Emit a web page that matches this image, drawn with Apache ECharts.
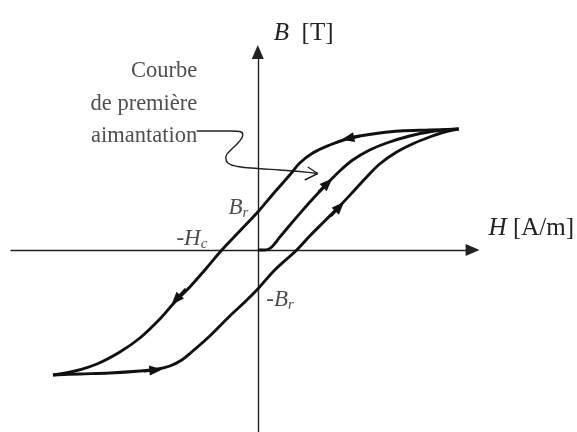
<!DOCTYPE html>
<html><head><meta charset="utf-8">
<script src="https://cdn.jsdelivr.net/npm/echarts@6/dist/echarts.min.js"></script>
<style>html,body{margin:0;padding:0;background:#fff}#c{width:577px;height:432px}</style>
</head><body><div id="c"></div>
<script>
// H in A/m, B in T
const descendingBranch = [
  [502.5,1.5125],[430,1.5],[355,1.4875],[305,1.4625],[255,1.425],[222.5,1.3875],
  [180,1.3125],[137.5,1.2125],[105,1.0875],[80,0.9375],[42.5,0.725],[0,0.475],
  [-45,0.2375],[-90,0],[-132.5,-0.25],[-170,-0.4625],[-207.5,-0.65],[-245,-0.8625],
  [-295,-1.1],[-345,-1.275],[-402.5,-1.425],[-457.5,-1.5125],[-512.5,-1.5625]
];
const ascendingBranch = [
  [-512.5,-1.5625],[-445,-1.55],[-370,-1.5375],[-295,-1.5125],[-250,-1.4875],
  [-220,-1.45],[-190,-1.375],[-162.5,-1.2625],[-120,-1.075],[-70,-0.825],[-32.5,-0.65],[0,-0.4875],
  [42.5,-0.25],[97.5,0],[130,0.175],[167.5,0.3625],[205,0.55],[242.5,0.75],
  [272.5,0.9125],[305,1.075],[347.5,1.225],[392.5,1.3375],[430,1.4125],[467.5,1.475],[502.5,1.5125]
];
const firstMagnetization = [
  [0,0],[15,0],[25,0.00625],[35,0.0375],[55,0.16],[80,0.31],[105,0.455],[135,0.625],
  [175,0.8375],[205,0.9875],[237.5,1.125],[280,1.25],[322.5,1.3375],[380,1.425],
  [442.5,1.4875],[502.5,1.5125]
];
// direction arrows on the curves: tail -> head
const arrowTails = [[255,1.425],[-180,-0.4875],[-285,-1.5125],[182.5,0.425],[152.5,0.725]];
const arrowHeads = [[225,1.39375],[-205,-0.625],[-255,-1.5],[205,0.54375],[175,0.8375]];
// annotation
const noteLines = ['Courbe','de première','aimantation'];
const notePath = [
  [-152.5,1.4875],[-107.5,1.4875],[-65,1.4875],[-45,1.48125],[-37.5,1.4375],[-47.5,1.35],
  [-67.5,1.25],[-80,1.1625],[-75,1.0875],[-50,1.04375],[0,1.01875],[55,1.0],[105,0.98125],[150,0.95625]
];
const noteArrowHead = [[125,1.0375],[150,0.95625],[117.5,0.875]];
// axis titles and marked values
const hSymbol = 'H', hUnit = '[A/m]';
const bSymbol = 'B', bUnit = '[T]';
const remanence = 0.475, negRemanence = -0.4875, coercive = -90;
const hRange = [-617.5, 537.5];
const bRange = [-2.275, 2.475];

const FONT = 'Liberation Serif';
const INK = '#111';
const TXT = '#222';
const richStyles = {
  i: {fontFamily: FONT, fontStyle: 'italic', fontSize: 23, color: TXT},
  u: {fontFamily: FONT, fontSize: 23, color: TXT},
  s: {fontFamily: FONT, fontStyle: 'italic', fontSize: 15, color: TXT, padding: [12, 0, 0, 0]}
};
const axisRich = {
  i: {fontFamily: FONT, fontStyle: 'italic', fontSize: 25, color: TXT},
  u: {fontFamily: FONT, fontSize: 25, color: TXT}
};

const chart = echarts.init(document.getElementById('c'), null, {renderer: 'canvas'});
const axisLineStyle = {color: '#222', width: 1.4};
chart.setOption({
  animation: false,
  backgroundColor: '#fff',
  grid: {left: 11, right: 104, top: 52, bottom: 0, containLabel: false},
  xAxis: {
    type: 'value', min: hRange[0], max: hRange[1],
    axisLine: {show: true, onZero: true, symbol: ['none', 'triangle'], symbolSize: [12, 14], lineStyle: axisLineStyle},
    axisTick: {show: false}, axisLabel: {show: false}, splitLine: {show: false},
    name: '{i|' + hSymbol + '}{u| ' + hUnit + '}', nameLocation: 'end', nameGap: 16,
    nameTextStyle: {padding: [0, 0, 44, 0], rich: axisRich}
  },
  yAxis: {
    type: 'value', min: bRange[0], max: bRange[1],
    axisLine: {show: true, onZero: true, symbol: ['none', 'triangle'], symbolSize: [12, 14], lineStyle: axisLineStyle},
    axisTick: {show: false}, axisLabel: {show: false}, splitLine: {show: false},
    name: '{i|' + bSymbol + '}{u|  ' + bUnit + '}', nameLocation: 'end', nameGap: 6,
    nameTextStyle: {align: 'left', padding: [0, 0, 0, 16], rich: axisRich}
  },
  series: [
    {type: 'line', data: descendingBranch, smooth: 0.35, showSymbol: false, symbol: 'none',
     lineStyle: {color: INK, width: 2.9}, silent: true, z: 3},
    {type: 'line', data: ascendingBranch, smooth: 0.35, showSymbol: false, symbol: 'none',
     lineStyle: {color: INK, width: 2.9}, silent: true, z: 3},
    {type: 'line', data: firstMagnetization, smooth: 0.35, showSymbol: false, symbol: 'none',
     lineStyle: {color: INK, width: 2.9}, silent: true, z: 3},
    {type: 'lines', coordinateSystem: 'cartesian2d', silent: true, z: 4,
     data: arrowHeads.map((h, k) => ({coords: [arrowTails[k], h]})),
     symbol: ['none', 'triangle'], symbolSize: [0, [10, 13]],
     lineStyle: {color: INK, width: 2.9, opacity: 1}},
    {type: 'line', data: notePath, smooth: 0.45, showSymbol: false, symbol: 'none',
     lineStyle: {color: '#222', width: 1.4}, silent: true, z: 2},
    {type: 'line', data: noteArrowHead, smooth: false, showSymbol: false, symbol: 'none',
     lineStyle: {color: '#222', width: 1.4}, silent: true, z: 2},
    {type: 'scatter', silent: true, z: 6, symbolSize: 1, itemStyle: {color: 'rgba(0,0,0,0)'},
     label: {show: true, rich: richStyles, color: TXT},
     data: [
       {value: [0, remanence], label: {formatter: '{i|B}{s|r}', position: [-9, -4], align: 'right', verticalAlign: 'middle'}},
       {value: [coercive, 0], label: {formatter: '{u|-}{i|H}{s|c}', position: [-14, -11], align: 'right', verticalAlign: 'middle'}},
       {value: [0, negRemanence], label: {formatter: '{u|-}{i|B}{s|r}', position: [9, 11], align: 'left', verticalAlign: 'middle'}},
       {value: notePath[0], label: {formatter: noteLines.join('\n'), position: [1, 22], align: 'right', verticalAlign: 'bottom',
         fontFamily: FONT, fontSize: 22.5, lineHeight: 32.5, color: TXT}}
     ]}
  ]
});
</script></body></html>
